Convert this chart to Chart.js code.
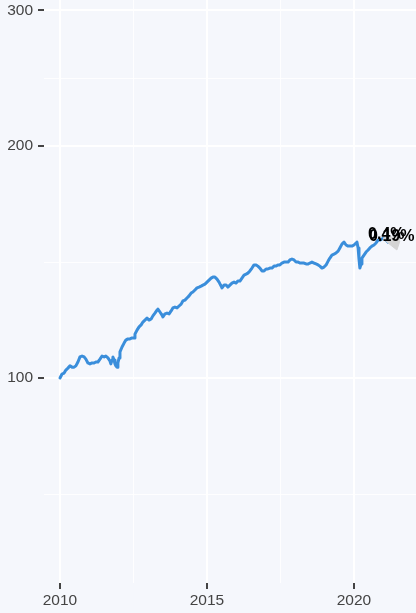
<!DOCTYPE html>
<html>
<head>
<meta charset="utf-8">
<script src="https://cdn.jsdelivr.net/npm/chart.js@4/dist/chart.umd.min.js"></script>
<style>
  html, body { margin: 0; padding: 0; background: #f5f7fc; }
  #wrap { width: 416px; height: 613px; position: relative; }
</style>
</head>
<body>
<div id="wrap"><canvas id="chart"></canvas></div>
<script>
// Index values (decimal years)
var years = [
  2010.00, 2010.07, 2010.14, 2010.20, 2010.27, 2010.34, 2010.41, 2010.48, 2010.54, 2010.61,
  2010.68, 2010.75, 2010.82, 2010.88, 2010.95, 2011.02, 2011.09, 2011.16, 2011.22, 2011.29,
  2011.36, 2011.43, 2011.50, 2011.56, 2011.63, 2011.70, 2011.73, 2011.77, 2011.80, 2011.84,
  2011.87, 2011.90, 2011.94, 2011.97, 2012.01, 2012.04, 2012.11, 2012.18, 2012.24, 2012.31,
  2012.38, 2012.45, 2012.52, 2012.55, 2012.62, 2012.69, 2012.76, 2012.82, 2012.89, 2012.96,
  2013.03, 2013.10, 2013.16, 2013.23, 2013.30, 2013.33, 2013.40, 2013.47, 2013.50, 2013.57,
  2013.64, 2013.71, 2013.78, 2013.84, 2013.91, 2013.98, 2014.05, 2014.12, 2014.18, 2014.25,
  2014.32, 2014.39, 2014.46, 2014.52, 2014.59, 2014.66, 2014.73, 2014.80, 2014.86, 2014.93,
  2015.00, 2015.07, 2015.14, 2015.20, 2015.27, 2015.34, 2015.41, 2015.48, 2015.51, 2015.58,
  2015.65, 2015.71, 2015.78, 2015.85, 2015.92, 2015.99, 2016.05, 2016.12, 2016.19, 2016.26,
  2016.33, 2016.39, 2016.46, 2016.53, 2016.60, 2016.67, 2016.73, 2016.80, 2016.87, 2016.94,
  2017.01, 2017.07, 2017.14, 2017.21, 2017.28, 2017.35, 2017.41, 2017.48, 2017.55, 2017.62,
  2017.69, 2017.76, 2017.82, 2017.89, 2017.96, 2018.03, 2018.10, 2018.16, 2018.23, 2018.30,
  2018.37, 2018.44, 2018.50, 2018.57, 2018.64, 2018.71, 2018.78, 2018.84, 2018.91, 2018.98,
  2019.05, 2019.12, 2019.18, 2019.25, 2019.32, 2019.39, 2019.46, 2019.52, 2019.59, 2019.66,
  2019.73, 2019.80, 2019.86, 2019.93, 2020.00, 2020.07, 2020.10, 2020.14, 2020.17, 2020.20,
  2020.24, 2020.27, 2020.34, 2020.41, 2020.48, 2020.54, 2020.61, 2020.68, 2020.75, 2020.82,
  2020.88, 2020.95, 2021.02, 2021.09, 2021.16
];
var values = [
  100.0, 101.2, 101.5, 102.4, 103.0, 103.7, 103.3, 103.3, 103.7, 104.9,
  106.5, 106.8, 106.5, 105.8, 104.6, 104.3, 104.6, 104.6, 104.9, 104.9,
  105.8, 106.8, 106.5, 106.8, 106.2, 105.2, 104.3, 105.5, 106.5, 105.5,
  104.3, 103.7, 103.3, 104.6, 106.2, 108.1, 109.7, 111.0, 112.0, 112.4,
  112.4, 112.7, 112.7, 114.0, 115.4, 116.5, 117.2, 118.2, 118.9, 119.6,
  118.9, 119.3, 120.4, 121.4, 122.5, 122.9, 121.8, 120.7, 120.0, 121.1,
  121.4, 121.1, 122.2, 123.3, 123.6, 123.3, 124.0, 124.7, 125.9, 126.2,
  127.0, 127.8, 128.9, 129.3, 130.1, 130.9, 131.2, 131.6, 132.0, 132.4,
  133.2, 134.0, 134.8, 135.2, 135.2, 134.4, 133.2, 131.6, 130.9, 132.0,
  132.0, 131.2, 132.0, 132.8, 133.2, 132.8, 133.6, 133.6, 134.8, 136.0,
  136.4, 136.8, 137.7, 138.9, 140.2, 140.2, 139.7, 138.9, 137.7, 137.7,
  138.5, 138.5, 138.9, 138.9, 139.7, 139.7, 140.2, 140.2, 141.0, 141.4,
  141.4, 141.4, 142.3, 142.7, 142.3, 141.4, 141.4, 141.0, 141.0, 141.0,
  140.6, 140.6, 141.0, 141.4, 141.0, 140.6, 140.2, 139.7, 138.9, 139.3,
  140.2, 141.8, 143.1, 144.4, 144.8, 145.3, 146.1, 147.5, 149.2, 150.1,
  148.8, 148.3, 148.3, 148.3, 148.8, 149.7, 150.1, 147.5, 142.7, 138.9,
  140.6, 143.1, 144.4, 145.7, 146.6, 147.5, 148.3, 148.8, 149.7, 151.0,
  151.0, 151.5, 151.9, 151.0, 150.1
];

// Grey projection band at the end
var bandYears = [2020.99, 2021.16, 2021.33, 2021.46, 2021.56];
var bandHigh = [151.9, 152.4, 152.4, 152.4, 151.5];
var bandLow = [151.5, 149.7, 147.9, 146.6, 150.6];

var endLabels = ['0.4%', '0.19%'];

var xTicks = [2010, 2012.5, 2015, 2017.5, 2020];
var xLabels = [2010, 2015, 2020];
var yTicks = [70.7, 100, 141.4, 200, 244.9, 300];
var yLabels = [100, 200, 300];

function pts(xs, ys) {
  var out = [];
  for (var i in xs) out.push({x: xs[i], y: ys[i]});
  return out;
}

var bgPlugin = {
  id: 'bg',
  beforeDraw: function(chart) {
    var c = chart.ctx;
    c.save();
    c.fillStyle = '#f5f7fc';
    c.fillRect(0, 0, chart.width, chart.height);
    c.restore();
  }
};

// End-of-line percent labels, anchored on the last point
var labelPlugin = {
  id: 'endLabel',
  afterDatasetsDraw: function(chart) {
    var meta = chart.getDatasetMeta(2);
    var last = meta.data[meta.data.length - 1];
    var c = chart.ctx;
    c.save();
    c.font = 'bold 16px "Liberation Sans", Arial, sans-serif';
    c.fillStyle = '#000';
    c.textBaseline = 'alphabetic';
    c.textAlign = 'left';
    c.fillText(endLabels[0], last.x - 20, last.y - 3);
    c.fillText(endLabels[1], last.x - 19, last.y - 1);
    c.restore();
  }
};

var tickFont = { family: '"Liberation Sans", Arial, sans-serif', size: 15.5 };

var ctx = document.getElementById('chart');
var myChart = new Chart(ctx, {
  type: 'line',
  data: {
    datasets: [{
      data: pts(bandYears, bandHigh),
      borderColor: '#d4d4d4',
      borderWidth: 1,
      backgroundColor: '#d4d4d4',
      pointRadius: 0,
      fill: '+1'
    }, {
      data: pts(bandYears, bandLow),
      borderColor: '#d4d4d4',
      borderWidth: 1,
      pointRadius: 0,
      fill: false
    }, {
      data: pts(years, values),
      borderColor: '#3a8edb',
      borderWidth: 3,
      borderJoinStyle: 'round',
      borderCapStyle: 'round',
      pointRadius: 0,
      tension: 0,
      fill: false
    }]
  },
  options: {
    responsive: true,
    maintainAspectRatio: false,
    animation: false,
    layout: { padding: 0 },
    plugins: { legend: { display: false }, tooltip: { enabled: false }, filler: { propagate: false } },
    scales: {
      x: {
        type: 'linear',
        min: 2009.456,
        max: 2022.109,
        afterBuildTicks: function(s) { s.ticks = xTicks.map(function(v) { return {value: v}; }); },
        afterFit: function(s) { s.height = 30; s.paddingLeft = 0; s.paddingRight = 0; },
        border: { display: false },
        grid: {
          color: function(c) { return xLabels.indexOf(c.tick.value) >= 0 ? '#ffffff' : 'rgba(255,255,255,0.85)'; },
          lineWidth: function(c) { return xLabels.indexOf(c.tick.value) >= 0 ? 2 : 1; },
          tickColor: function(c) { return xLabels.indexOf(c.tick.value) >= 0 ? '#444' : 'rgba(0,0,0,0)'; },
          tickLength: 6,
          tickWidth: 2
        },
        ticks: {
          autoSkip: false,
          maxRotation: 0,
          padding: 2,
          color: '#444',
          font: tickFont,
          callback: function(v) { return xLabels.indexOf(v) >= 0 ? String(v) : ''; }
        }
      },
      y: {
        type: 'logarithmic',
        min: 54.2,
        max: 309.4,
        afterBuildTicks: function(s) { s.ticks = yTicks.map(function(v) { return {value: v}; }); },
        afterFit: function(s) { s.width = 44; s.paddingTop = 0; s.paddingBottom = 0; },
        border: { display: false },
        grid: {
          color: function(c) { return yLabels.indexOf(c.tick.value) >= 0 ? '#ffffff' : 'rgba(255,255,255,0.85)'; },
          lineWidth: function(c) { return yLabels.indexOf(c.tick.value) >= 0 ? 2 : 1; },
          tickColor: function(c) { return yLabels.indexOf(c.tick.value) >= 0 ? '#444' : 'rgba(0,0,0,0)'; },
          tickLength: 6,
          tickWidth: 2
        },
        ticks: {
          autoSkip: false,
          padding: 5,
          color: '#444',
          font: tickFont,
          callback: function(v) { return yLabels.indexOf(v) >= 0 ? String(v) : ''; }
        }
      }
    }
  },
  plugins: [bgPlugin, labelPlugin]
});
</script>
</body>
</html>
